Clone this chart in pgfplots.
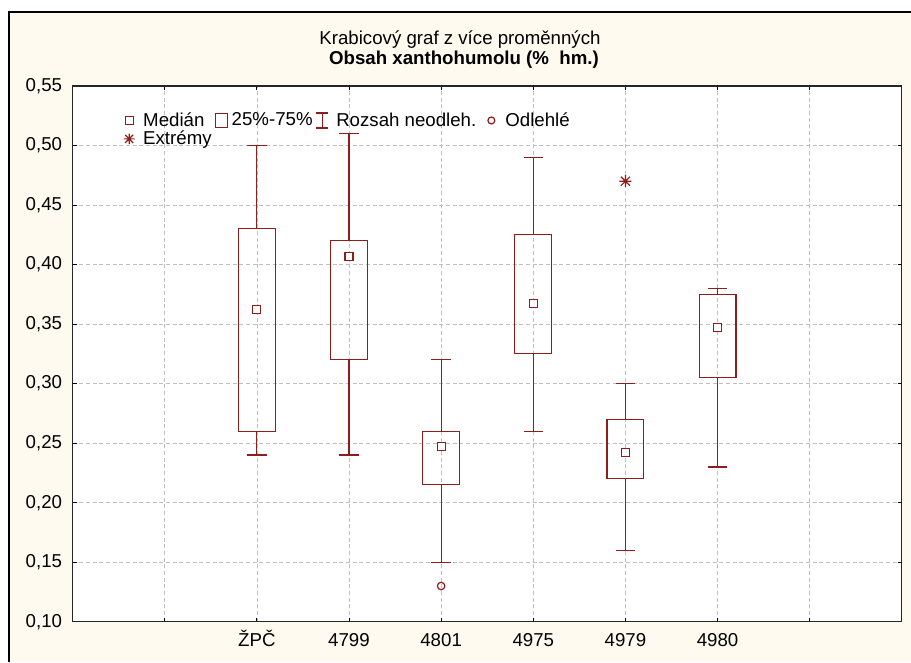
\documentclass[border=0pt]{standalone}
\usepackage{pgfplots}
\pgfplotsset{compat=1.18}
\usepackage{fontspec}
\setmainfont{Liberation Sans}
\definecolor{boxred}{RGB}{145,28,28}
\definecolor{cream}{RGB}{254,250,239}
\newcommand{\fs}{\fontsize{14pt}{16.8pt}\selectfont}

\pgfdeclareplotmark{xplus}{%
  \pgfpathmoveto{\pgfqpoint{-\pgfplotmarksize}{0pt}}\pgfpathlineto{\pgfqpoint{\pgfplotmarksize}{0pt}}%
  \pgfpathmoveto{\pgfqpoint{0pt}{-\pgfplotmarksize}}\pgfpathlineto{\pgfqpoint{0pt}{\pgfplotmarksize}}%
  \pgfpathmoveto{\pgfqpoint{-0.75\pgfplotmarksize}{-0.75\pgfplotmarksize}}\pgfpathlineto{\pgfqpoint{0.75\pgfplotmarksize}{0.75\pgfplotmarksize}}%
  \pgfpathmoveto{\pgfqpoint{-0.75\pgfplotmarksize}{0.75\pgfplotmarksize}}\pgfpathlineto{\pgfqpoint{0.75\pgfplotmarksize}{-0.75\pgfplotmarksize}}%
  \pgfusepathqstroke}

\begin{document}
\begin{tikzpicture}
\useasboundingbox (0,0) rectangle (683.25pt,496.5pt);
\fill[cream] (6.75pt,0) rectangle (683.25pt,487.5pt);
\draw[line width=1.2pt] (6.75pt,0) -- (6.75pt,487.5pt) -- (683.25pt,487.5pt);
\node[anchor=base, font=\fs] at (345pt,462.75pt) {Krabicový graf z více proměnných};
\node[anchor=base, font=\fs\bfseries] at (348pt,447.75pt) {Obsah xanthohumolu (\%\ \ hm.)};
\begin{axis}[
  at={(54.45pt,30.2pt)}, anchor=south west,
  width=621.9pt, height=401.8pt, scale only axis,
  xmin=0, xmax=9, ymin=0.1, ymax=0.55,
  xtick={1,2,3,4,5,6,7,8},
  xticklabels={,ŽPČ,4799,4801,4975,4979,4980,},
  ytick={0.10,0.15,0.20,0.25,0.30,0.35,0.40,0.45,0.50,0.55},
  scaled y ticks=false,
  yticklabel style={font=\fs, xshift=-4.4pt,
    /pgf/number format/.cd, fixed, fixed zerofill, precision=2, use comma, assume math mode=true},
  xticklabel style={font=\fs, anchor=base, yshift=-18.2pt},
  tick align=inside, major tick length=3pt,
  tick style={black, line width=0.6pt},
  axis line style={black!85, line width=0.9pt},
  axis background/.style={fill=white},
  grid=major,
  grid style={dash pattern=on 3pt off 2pt, color=black!25, line width=0.5pt},
  unbounded coords=jump,
  legend cell align=left,
  legend columns=4,
  legend style={at={(0,1)}, anchor=north west, xshift=37.8pt, yshift=-18.75pt,
    draw=none, fill=none, inner sep=0pt, column sep=0pt, row sep=0pt,
    nodes={inner xsep=2.25pt, inner ysep=1pt, font=\fs}},
  every axis plot/.append style={forget plot},
]
% ZPC: whiskers 0.24-0.50, box 0.26-0.43
\addplot[boxred, line width=0.9pt, mark=none] coordinates {
 (1.8,0.26) (2.2,0.26) (2.2,0.43) (1.8,0.43) (1.8,0.26) (nan,nan)
 (2,0.43) (2,0.50) (nan,nan) (1.895,0.50) (2.105,0.50) (nan,nan)
 (2,0.26) (2,0.24) (nan,nan) (1.895,0.24) (2.105,0.24)};
% 4799
\addplot[boxred, line width=0.9pt, mark=none] coordinates {
 (2.8,0.32) (3.2,0.32) (3.2,0.42) (2.8,0.42) (2.8,0.32) (nan,nan)
 (3,0.42) (3,0.51) (nan,nan) (2.895,0.51) (3.105,0.51) (nan,nan)
 (3,0.32) (3,0.24) (nan,nan) (2.895,0.24) (3.105,0.24)};
% 4801
\addplot[boxred, line width=0.9pt, mark=none] coordinates {
 (3.8,0.215) (4.2,0.215) (4.2,0.26) (3.8,0.26) (3.8,0.215) (nan,nan)
 (4,0.26) (4,0.32) (nan,nan) (3.895,0.32) (4.105,0.32) (nan,nan)
 (4,0.215) (4,0.15) (nan,nan) (3.895,0.15) (4.105,0.15)};
% 4975
\addplot[boxred, line width=0.9pt, mark=none] coordinates {
 (4.8,0.325) (5.2,0.325) (5.2,0.425) (4.8,0.425) (4.8,0.325) (nan,nan)
 (5,0.425) (5,0.49) (nan,nan) (4.895,0.49) (5.105,0.49) (nan,nan)
 (5,0.325) (5,0.26) (nan,nan) (4.895,0.26) (5.105,0.26)};
% 4979
\addplot[boxred, line width=0.9pt, mark=none] coordinates {
 (5.8,0.22) (6.2,0.22) (6.2,0.27) (5.8,0.27) (5.8,0.22) (nan,nan)
 (6,0.27) (6,0.30) (nan,nan) (5.895,0.30) (6.105,0.30) (nan,nan)
 (6,0.22) (6,0.16) (nan,nan) (5.895,0.16) (6.105,0.16)};
% 4980
\addplot[boxred, line width=0.9pt, mark=none] coordinates {
 (6.8,0.305) (7.2,0.305) (7.2,0.375) (6.8,0.375) (6.8,0.305) (nan,nan)
 (7,0.375) (7,0.38) (nan,nan) (6.895,0.38) (7.105,0.38) (nan,nan)
 (7,0.305) (7,0.23) (nan,nan) (6.895,0.23) (7.105,0.23)};
% medians
\addplot[boxred, only marks, mark=square*, mark size=3pt,
  mark options={draw=boxred, fill=white, line width=0.9pt}]
  coordinates {(2,0.362) (3,0.407) (4,0.247) (5,0.367) (6,0.242) (7,0.347)};
% outlier
\addplot[boxred, only marks, mark=o, mark size=2.8pt, line width=0.9pt]
  coordinates {(4,0.13)};
% extreme
\addplot[boxred, only marks, mark=xplus, mark size=4.5pt, line width=0.9pt]
  coordinates {(6,0.47)};

\addlegendimage{legend image code/.code={
  \path[draw=none] (0,0) -- (11.25pt,0);
  \draw[boxred, line width=0.9pt] (0,-3pt) rectangle (6pt,3pt);}}
\addlegendentry{Medián}
\addlegendimage{legend image code/.code={
  \path[draw=none] (0,0) -- (10.1pt,0);
  \draw[boxred, line width=0.9pt] (0,-5.25pt) rectangle (9pt,5.25pt);}}
\addlegendentry{25\%-75\%}
\addlegendimage{legend image code/.code={
  \path[draw=none] (0,0) -- (13.2pt,0);
  \draw[boxred, line width=0.9pt] (5pt,-5.6pt) -- (5pt,5.6pt)
     (0.6pt,-5.6pt) -- (9.4pt,-5.6pt) (0.6pt,5.6pt) -- (9.4pt,5.6pt);}}
\addlegendentry{Rozsah neodleh.}
\addlegendimage{legend image code/.code={
  \path[draw=none] (0,0) -- (17.25pt,0);
  \draw[boxred, line width=0.9pt] (9pt,0) circle (2.6pt);}}
\addlegendentry{Odlehlé}
\addlegendimage{legend image code/.code={
  \path[draw=none] (0,0) -- (11.25pt,0);
  \draw[boxred, line width=0.9pt] (-1pt,0) -- (7pt,0) (3pt,-4pt) -- (3pt,4pt)
    (0pt,-3pt) -- (6pt,3pt) (0pt,3pt) -- (6pt,-3pt);}}
\addlegendentry{Extrémy}
\end{axis}
\end{tikzpicture}
\end{document}
